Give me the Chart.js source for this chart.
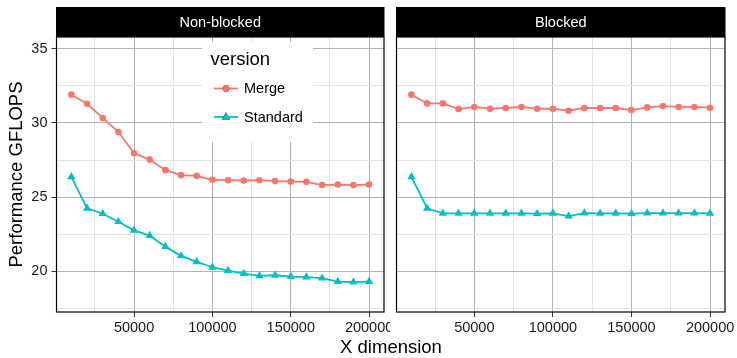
<!DOCTYPE html>
<html>
<head>
<meta charset="utf-8">
<script src="https://cdn.jsdelivr.net/npm/chart.js@4"></script>
<style>
  body { margin: 0; background: #fff; }
  #wrap { position: relative; width: 737px; height: 358px; }
  canvas { position: absolute; top: 0; }
  #xtitle {
    position: absolute; left: 291px; width: 200px; top: 336px;
    text-align: center; font: 18.5px "Liberation Sans", Arial, sans-serif; color: #000;
  }
</style>
</head>
<body>
<div id="wrap">
  <canvas id="left_chart" width="390" height="358" style="left:0"></canvas>
  <canvas id="right_chart" width="347" height="358" style="left:390px"></canvas>
  <div id="xtitle">X dimension</div>
</div>
<script>
// facets
const panels = ['Non-blocked', 'Blocked'];
const versions = ['Merge', 'Standard'];
const colors = ['#F8766D', '#00BFC4'];

const xDim = [10000, 20000, 30000, 40000, 50000, 60000, 70000, 80000, 90000, 100000,
    110000, 120000, 130000, 140000, 150000, 160000, 170000, 180000, 190000, 200000];

// Non-blocked
const mergeNonBlocked = [31.91, 31.30, 30.34, 29.39, 27.96, 27.53, 26.82, 26.48, 26.43, 26.17,
    26.14, 26.12, 26.14, 26.08, 26.05, 26.03, 25.81, 25.85, 25.81, 25.85];
const standardNonBlocked = [26.37, 24.24, 23.88, 23.34, 22.76, 22.40, 21.66, 21.03, 20.63, 20.27,
    20.04, 19.84, 19.69, 19.73, 19.64, 19.60, 19.53, 19.30, 19.26, 19.30];

// Blocked
const mergeBlocked = [31.91, 31.32, 31.32, 30.94, 31.08, 30.96, 31.01, 31.08, 30.96, 30.96,
    30.83, 31.01, 31.01, 31.01, 30.87, 31.05, 31.14, 31.08, 31.08, 31.03];
const standardBlocked = [26.37, 24.24, 23.90, 23.90, 23.90, 23.90, 23.90, 23.90, 23.88, 23.90,
    23.72, 23.92, 23.90, 23.90, 23.88, 23.92, 23.92, 23.92, 23.92, 23.90];

const xTicks = [25000, 50000, 75000, 100000, 125000, 150000, 175000, 200000];
const yTicks = [17.5, 20, 22.5, 25, 27.5, 30, 32.5, 35];

Chart.defaults.font.family = '"Liberation Sans", Arial, sans-serif';
Chart.defaults.color = '#1a1a1a';

function isMajorX(v) { return v % 50000 === 0; }
function isMajorY(v) { return v % 5 === 0; }

// strip on top + black frame round the panel
const stripPlugin = {
    id: 'strip',
    beforeDraw(chart, args, opts) {
        const a = chart.chartArea;
        const ctx = chart.ctx;
        ctx.save();
        ctx.fillStyle = '#000';
        ctx.fillRect(a.left - 0.5, 7, a.right - a.left + 1, a.top - 7);
        ctx.fillStyle = '#fff';
        ctx.font = '14.5px "Liberation Sans", Arial, sans-serif';
        ctx.textAlign = 'center';
        ctx.textBaseline = 'middle';
        ctx.fillText(opts.text, (a.left + a.right) / 2, (7 + a.top) / 2 + 1);
        ctx.restore();
    },
    afterDatasetsDraw(chart) {
        const a = chart.chartArea;
        const ctx = chart.ctx;
        ctx.save();
        ctx.strokeStyle = '#000';
        ctx.lineWidth = 1.2;
        ctx.strokeRect(a.left, a.top, a.right - a.left, a.bottom - a.top);
        ctx.restore();
    }
};

// legend drawn inside the left panel, like ggplot
const insideLegend = {
    id: 'insideLegend',
    afterDraw(chart, args, opts) {
        if (!opts.show) return;
        const ctx = chart.ctx;
        ctx.save();
        ctx.fillStyle = '#fff';
        ctx.fillRect(202, 42, 111, 100);
        ctx.fillStyle = '#000';
        ctx.textBaseline = 'middle';
        ctx.textAlign = 'left';
        ctx.font = '18.5px "Liberation Sans", Arial, sans-serif';
        ctx.fillText('version', 210.5, 60);
        ctx.font = '14.5px "Liberation Sans", Arial, sans-serif';
        chart.data.datasets.forEach((ds, i) => {
            const y = 88.5 + i * 28.5;
            ctx.strokeStyle = ds.borderColor;
            ctx.lineWidth = 1.8;
            ctx.beginPath();
            ctx.moveTo(214, y);
            ctx.lineTo(238, y);
            ctx.stroke();
            Chart.helpers.drawPoint(ctx, {
                pointStyle: ds.pointStyle,
                radius: ds.pointRadius,
                borderWidth: 0
            }, 226, y);
            ctx.fillStyle = ds.borderColor;
            ctx.fill();
            ctx.fillStyle = '#000';
            ctx.fillText(ds.label, 244, y + 0.5);
        });
        ctx.restore();
    }
};

function makeSet(label, xs, ys, color, style, r) {
    return {
        label: label,
        data: xs.map((x, i) => ({ x: x, y: ys[i] })),
        borderColor: color,
        backgroundColor: color,
        borderWidth: 1.8,
        pointStyle: style,
        pointRadius: r,
        pointBorderWidth: 0,
        pointHoverRadius: r
    };
}

function makeChart(el, title, merge, standard, showAxis) {
    return new Chart(el, {
        type: 'line',
        data: {
            datasets: [
                makeSet(versions[0], xDim, merge, colors[0], 'circle', 3.3),
                makeSet(versions[1], xDim, standard, colors[1], 'triangle', 4.8)
            ]
        },
        options: {
            responsive: false,
            animation: false,
            devicePixelRatio: 1,
            layout: { padding: { top: 37, right: showAxis ? 6 : 12, left: showAxis ? 0 : 6.5, bottom: 0 } },
            plugins: {
                legend: { display: false },
                tooltip: { enabled: false },
                strip: { text: title },
                insideLegend: { show: showAxis }
            },
            scales: {
                x: {
                    type: 'linear',
                    min: 500,
                    max: 209500,
                    afterBuildTicks(s) { s.ticks = xTicks.map(v => ({ value: v })); },
                    afterFit(s) {
                        s.height = 46;
                        s.paddingLeft = 0;
                        s.paddingRight = 0;
                    },
                    border: { display: false },
                    grid: {
                        color: c => isMajorX(c.tick.value) ? '#b3b3b3' : '#e3e3e3',
                        lineWidth: 1,
                        tickColor: c => isMajorX(c.tick.value) ? '#333' : 'rgba(0,0,0,0)',
                        tickLength: 5
                    },
                    ticks: {
                        autoSkip: false,
                        maxRotation: 0,
                        padding: 2,
                        color: '#1a1a1a',
                        font: { size: 14.5 },
                        callback: v => isMajorX(v) ? String(v) : ''
                    }
                },
                y: {
                    min: 17.25,
                    max: 35.8,
                    afterBuildTicks(s) { s.ticks = yTicks.map(v => ({ value: v })); },
                    afterFit(s) {
                        s.width = showAxis ? 56.5 : 0;
                        s.paddingTop = 0;
                        s.paddingBottom = 0;
                    },
                    border: { display: false },
                    grid: {
                        color: c => isMajorY(c.tick.value) ? '#b3b3b3' : '#e3e3e3',
                        lineWidth: 1,
                        drawTicks: showAxis,
                        tickColor: c => isMajorY(c.tick.value) ? '#333' : 'rgba(0,0,0,0)',
                        tickLength: 5
                    },
                    ticks: {
                        display: showAxis,
                        autoSkip: false,
                        padding: 4,
                        color: '#1a1a1a',
                        font: { size: 14.5 },
                        callback: v => isMajorY(v) ? String(v) : ''
                    },
                    title: {
                        display: showAxis,
                        text: 'Performance GFLOPS',
                        color: '#000',
                        font: { size: 18.5 },
                        padding: { top: 6, bottom: 0 }
                    }
                }
            }
        },
        plugins: [stripPlugin, insideLegend]
    });
}

let leftChart = makeChart(document.getElementById('left_chart'), panels[0],
    mergeNonBlocked, standardNonBlocked, true);
let rightChart = makeChart(document.getElementById('right_chart'), panels[1],
    mergeBlocked, standardBlocked, false);
</script>
</body>
</html>
